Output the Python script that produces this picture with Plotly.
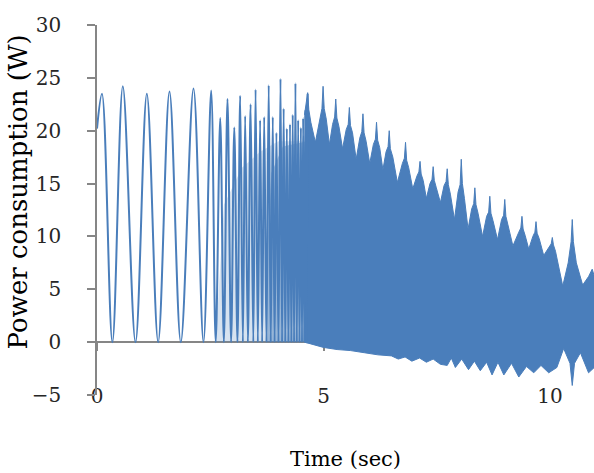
import plotly.graph_objects as go

# ---- data ----
# individual oscillation cycles (peaks / troughs) in the sparse part
early_time = [0.00, 0.11, 0.34, 0.57, 0.85, 1.10, 1.35, 1.60, 1.85, 2.13, 2.35,
              2.52, 2.62, 2.72, 2.80, 2.88, 2.96, 3.03, 3.10, 3.16, 3.22,
              3.27, 3.33, 3.39, 3.45, 3.50, 3.55, 3.60, 3.645, 3.69, 3.74,
              3.79, 3.835, 3.88, 3.92, 3.96, 4.005, 4.05, 4.085, 4.12, 4.155,
              4.19, 4.225, 4.26, 4.29, 4.32, 4.35, 4.38, 4.41, 4.44, 4.47,
              4.50, 4.525, 4.55, 4.575, 4.60, 4.625, 4.65]
early_power = [20.2, 23.5, 0, 24.2, 0, 23.5, 0, 23.7, 0, 24.0, 0,
               23.8, 0, 21.2, 0, 23.0, 0, 20.3, 0, 23.3, 0,
               21.4, 0, 22.5, 0, 23.9, 0, 21.0, 0, 21.3, 0,
               24.3, 0, 21.3, 0, 19.8, 0, 24.9, 0, 22.1, 0,
               20.2, 0, 20.6, 0, 21.5, 0, 24.5, 0, 21.0, 0,
               20.3, 0, 21.2, 0, 22.0, 0, 23.5]

# light density haze between the transition cycles
haze_time = [2.62, 2.80, 3.20, 3.60, 4.00, 4.65]
haze_top = [0.0, 13.0, 16.5, 18.0, 19.0, 19.0]
haze_bottom = [0.0, 0.0, 0.0, 0.0, 0.0, 0.0]

# denser haze just before the fully dense part
dense_time = [3.75, 3.85, 4.10, 4.65]
dense_top = [8.0, 16.0, 18.5, 19.0]
dense_bottom = [0.0, 0.0, 0.0, 0.0]

# upper envelope of the fully dense part (spikes, shoulders, valleys)
upper_time = [4.58, 4.65, 4.675, 4.72, 4.82,
              4.92, 4.965, 4.99, 5.015, 5.06, 5.13,
              5.20, 5.245, 5.27, 5.295, 5.34, 5.42,
              5.50, 5.545, 5.57, 5.595, 5.64, 5.72,
              5.80, 5.845, 5.87, 5.895, 5.94, 6.02,
              6.10, 6.145, 6.17, 6.195, 6.24, 6.31,
              6.38, 6.425, 6.45, 6.475, 6.53, 6.63,
              6.74, 6.785, 6.81, 6.835, 6.88, 6.97,
              7.06, 7.105, 7.13, 7.155, 7.20, 7.27,
              7.35, 7.395, 7.42, 7.445, 7.49, 7.58,
              7.66, 7.705, 7.73, 7.755, 7.80, 7.89,
              7.97, 8.015, 8.04, 8.065, 8.11, 8.19,
              8.27, 8.315, 8.34, 8.365, 8.41, 8.51,
              8.60, 8.645, 8.67, 8.695, 8.74, 8.84,
              8.93, 8.975, 9.00, 9.025, 9.07, 9.18,
              9.31, 9.355, 9.38, 9.405, 9.45, 9.53,
              9.62, 9.665, 9.69, 9.715, 9.76, 9.86,
              9.98, 10.025, 10.05, 10.075, 10.12, 10.28,
              10.40, 10.465, 10.49, 10.515, 10.58, 10.72,
              10.85, 10.93, 11.00]
upper_power = [21.5, 23.6, 22.0, 20.8, 18.9,
               21.3, 22.1, 24.2, 22.1, 21.1, 18.7,
               20.6, 21.3, 23.0, 21.2, 20.4, 18.3,
               20.1, 20.6, 22.2, 20.5, 19.8, 17.3,
               19.3, 19.9, 21.6, 19.8, 19.0, 16.9,
               18.7, 19.2, 20.8, 19.1, 18.4, 16.3,
               18.0, 18.5, 20.0, 18.3, 17.5, 15.1,
               16.9, 17.4, 18.9, 17.2, 16.5, 14.5,
               15.7, 16.1, 17.1, 15.9, 15.3, 13.6,
               15.0, 15.4, 16.6, 15.3, 14.6, 13.2,
               14.8, 15.2, 16.4, 14.9, 14.0, 11.6,
               14.2, 14.9, 17.3, 15.0, 13.6, 10.7,
               12.6, 13.1, 14.6, 13.0, 12.2, 10.0,
               11.9, 12.3, 13.8, 12.2, 11.5, 9.7,
               11.6, 12.0, 13.5, 11.9, 11.1, 9.1,
               10.4, 10.8, 11.9, 10.7, 10.1, 8.8,
               10.0, 10.4, 11.4, 10.3, 9.8, 8.2,
               9.0, 9.3, 9.9, 9.2, 8.6, 5.3,
               7.5, 9.5, 11.6, 9.5, 7.5, 5.4,
               6.2, 6.9, 5.9]

# lower envelope of the fully dense part
lower_time = [4.58, 4.75, 5.00, 5.30, 5.60, 5.90, 6.20, 6.50, 6.65, 6.80,
              6.95, 7.12, 7.27, 7.42, 7.58, 7.73, 7.82, 7.91, 8.05, 8.20,
              8.33, 8.46, 8.60, 8.72, 8.85, 8.98, 9.15, 9.31, 9.48, 9.64,
              9.80, 9.97, 10.15, 10.30, 10.44, 10.49, 10.54, 10.67, 10.85, 11.00]
lower_power = [0.0, -0.2, -0.5, -0.7, -0.8, -1.0, -1.2, -1.3, -1.6, -1.4,
               -1.8, -1.5, -1.9, -1.6, -2.1, -2.2, -1.5, -2.4, -1.6, -2.6,
               -1.8, -2.7, -1.9, -3.1, -1.9, -3.1, -2.0, -3.3, -2.3, -2.9,
               -2.2, -2.9, -2.4, -0.6, -2.0, -4.1, -2.0, -1.0, -2.9, -2.3]

x_ticks = [0, 5, 10]
y_ticks = [-5, 0, 5, 10, 15, 20, 25, 30]

BLUE = "#4A7EBB"
GRAY = "#868686"
FONT = "DejaVu Serif"

fig = go.Figure()

# light haze between transition cycles
fig.add_trace(go.Scatter(x=haze_time, y=haze_bottom, mode="lines",
                         line=dict(width=0, color=BLUE), hoverinfo="skip",
                         showlegend=False))
fig.add_trace(go.Scatter(x=haze_time, y=haze_top, mode="lines",
                         line=dict(width=0, color=BLUE), fill="tonexty",
                         fillcolor="rgba(74,126,187,0.22)", hoverinfo="skip",
                         showlegend=False))
fig.add_trace(go.Scatter(x=dense_time, y=dense_bottom, mode="lines",
                         line=dict(width=0, color=BLUE), hoverinfo="skip",
                         showlegend=False))
fig.add_trace(go.Scatter(x=dense_time, y=dense_top, mode="lines",
                         line=dict(width=0, color=BLUE), fill="tonexty",
                         fillcolor="rgba(74,126,187,0.45)", hoverinfo="skip",
                         showlegend=False))

# dense band
fig.add_trace(go.Scatter(x=lower_time, y=lower_power, mode="lines",
                         line=dict(width=1, color=BLUE), showlegend=False))
fig.add_trace(go.Scatter(x=upper_time, y=upper_power, mode="lines",
                         line=dict(width=1, color=BLUE), fill="tonexty",
                         fillcolor=BLUE, showlegend=False))

# individual cycles
fig.add_trace(go.Scatter(x=early_time, y=early_power, mode="lines",
                         line=dict(width=2, color=BLUE, shape="spline",
                                   smoothing=1.0),
                         showlegend=False))

fig.update_layout(
    width=594, height=473,
    margin=dict(l=97, r=0, t=25, b=78, autoexpand=False),
    paper_bgcolor="white", plot_bgcolor="white",
    font=dict(family=FONT, size=20, color="#262626"),
    xaxis=dict(
        range=[0, 10.97], anchor="free", position=5 / 35, automargin=False,
        showline=True, linecolor=GRAY, linewidth=1.5, layer="below traces",
        ticks="outside", ticklen=8, tickcolor=GRAY, tickwidth=1.5,
        tickvals=x_ticks, ticklabelstandoff=28,
        showgrid=False, zeroline=False,
        tickfont=dict(family=FONT, size=20, color="#262626"),
        title=dict(text="Time (sec)", font=dict(family=FONT, size=21, color="black"),
                   standoff=43),
    ),
    yaxis=dict(
        range=[-5, 30], showline=True, linecolor=GRAY, linewidth=1.5,
        automargin=False,
        ticks="outside", ticklen=8, tickcolor=GRAY, tickwidth=1.5,
        tickvals=y_ticks, ticklabelstandoff=22,
        showgrid=False, zeroline=False,
        tickfont=dict(family=FONT, size=20, color="#262626"),
    ),
    annotations=[dict(
        text="Power consumption (W)", textangle=-90,
        xref="paper", yref="paper", x=-0.157, y=0.55,
        xanchor="center", yanchor="middle", showarrow=False,
        font=dict(family=FONT, size=26, color="black"),
    )],
)

fig.write_html("out.html", config={"displayModeBar": False},
               post_script="document.body.style.margin='0';")
